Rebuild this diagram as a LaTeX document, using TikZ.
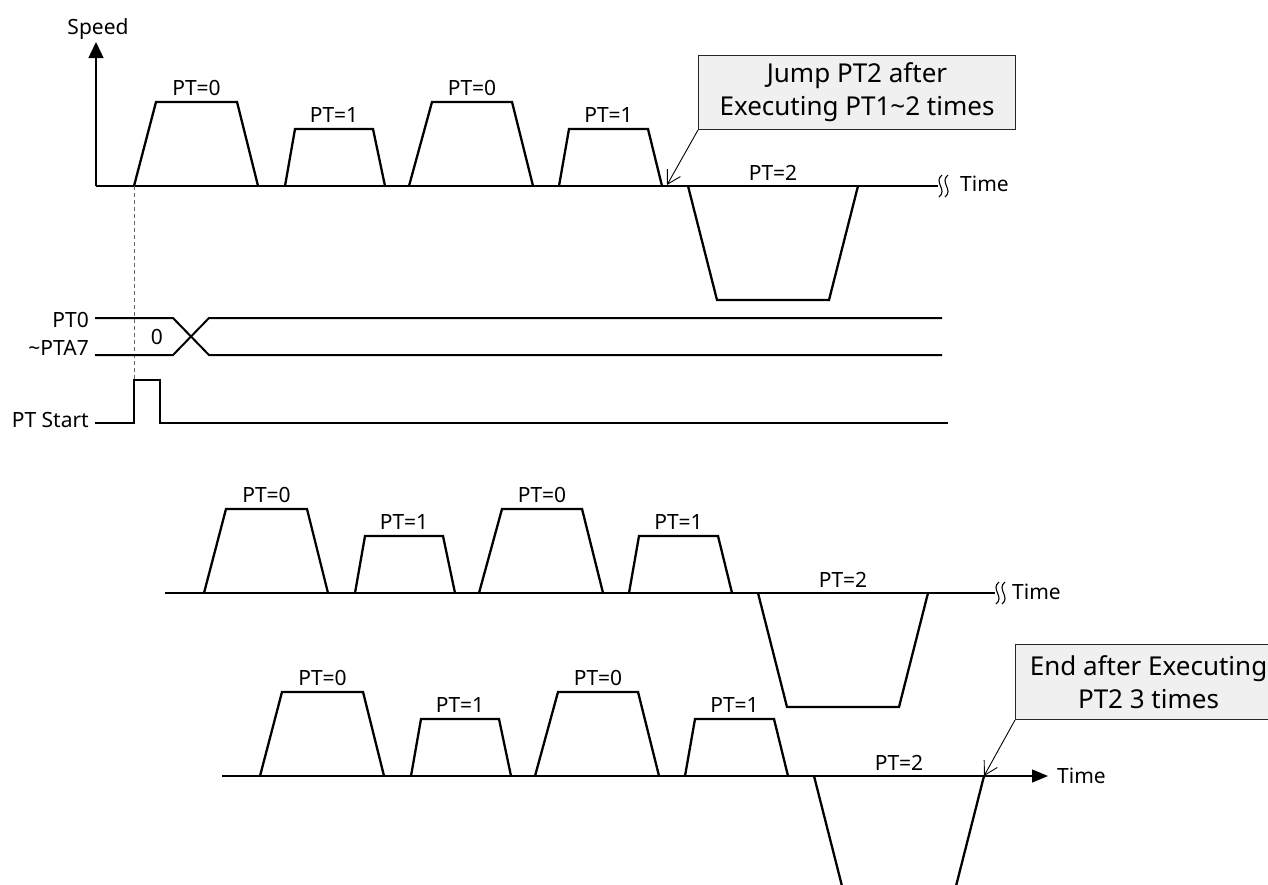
\documentclass[tikz,border=0pt]{standalone}
\usepackage{fontspec}
\setmainfont{Noto Sans}
\usepackage{tikz}
\usetikzlibrary{positioning,arrows.meta}
\tikzset{
  ptaxis/.style={line width=1.3pt},
  ptprofile/.style={line width=2.3pt, line join=miter},
  ptsignal/.style={line width=2pt},
  ptguide/.style={dash pattern=on 4pt off 3pt, black!60, line width=1pt},
  ptbreak/.style={line width=1.1pt},
  ptlabel/.style={font=\fontsize{21}{24}\selectfont, anchor=base, inner sep=0pt},
  ptnote/.style={draw=black!85, line width=1pt, fill=black!6, align=center,
    font=\fontsize{26}{33}\selectfont, inner sep=0pt, anchor=north west},
  ptarrow/.style={-{Straight Barb[length=13pt, width=15pt]}, line width=0.9pt},
}

\begin{document}
\begin{tikzpicture}[x=1pt, y=-1pt]
  \useasboundingbox (0,0) rectangle (1268,884);
  \clip (0,0) rectangle (1268,884);
  % axes
  \draw[ptaxis, -{Triangle[length=16pt, width=15pt]}] (96,186) -- (96,42);
  \node[ptlabel] (speed) at (98,34) {Speed};
  \draw[ptaxis] (96,186) -- (938,186);
  \draw[ptaxis] (165,593) -- (995,593);
  \draw[ptaxis, -{Triangle[length=16pt, width=13pt]}] (222,776) -- (1048,776);
  \foreach \x/\y in {939/186, 945/186, 996/593, 1002/593}
    \draw[ptbreak] (\x+3,\y-11) .. controls (\x-6,\y-4) and (\x+9,\y+4) .. (\x,\y+11);
  \node[ptlabel, anchor=base west] (time1) at (960,191) {Time};
  \node[ptlabel, anchor=base west] (time2) at (1012,599) {Time};
  \node[ptlabel, anchor=base west] (time3) at (1057,783) {Time};
  % speed profiles
  \foreach \dx/\dy [count=\r] in {0/0, 70/407, 126/590} {
    \begin{scope}[shift={(\dx,\dy)}]
      \foreach \a/\b/\c/\d/\h/\t [count=\i] in {134/156/237/258/102/0, 285/295/373/385/129/1,
          409/432/512/533/102/0, 559/569/648/662/129/1} {
        \draw[ptprofile] (\a,186) -- (\b,\h) -- (\c,\h) -- (\d,186);
        \node[ptlabel] (pt\r-\i) at ({(\b+\c)/2},\h-7) {PT=\t};
      }
      \draw[ptprofile] (688,186) -- (717,300) -- (829,300) -- (858,186);
      \node[ptlabel] (pt\r-5) at (773,180) {PT=2};
    \end{scope}
  }
  % PT0~PTA7 and PT Start
  \draw[ptguide] (134,186) -- (134,380);
  \draw[ptsignal] (95,318) -- (173,318) -- (209,355) -- (942,355);
  \draw[ptsignal] (95,355) -- (173,355) -- (209,318) -- (942,318);
  \draw[ptsignal] (95,423) -- (134,423) -- (134,380) -- (160,380) -- (160,423) -- (948,423);
  \node[ptlabel, anchor=base east] (sig0) at (89,327) {PT0};
  \node[ptlabel, anchor=base east] (sig7) at (89,355) {\textasciitilde PTA7};
  \node[ptlabel, anchor=base east] (sigstart) at (89,427) {PT Start};
  \node[ptlabel] (bus0) at (157,344) {0};
  % notes
  \node[ptnote, minimum width=317pt, minimum height=74pt] (jumpnote) at (698,55)
    {Jump PT2 after\\Executing PT1\textasciitilde{}2 times};
  \coordinate (jumpend) at (667,185);
  \draw[ptarrow] (jumpnote.south west) -- (jumpend);
  \node[ptnote, minimum width=266pt, minimum height=75pt] (endnote) at (1015,644)
    {End after Executing\\PT2 3 times};
  \coordinate (endend) at (984,776);
  \draw[ptarrow] (endnote.south west) -- (endend);
\end{tikzpicture}
\end{document}
